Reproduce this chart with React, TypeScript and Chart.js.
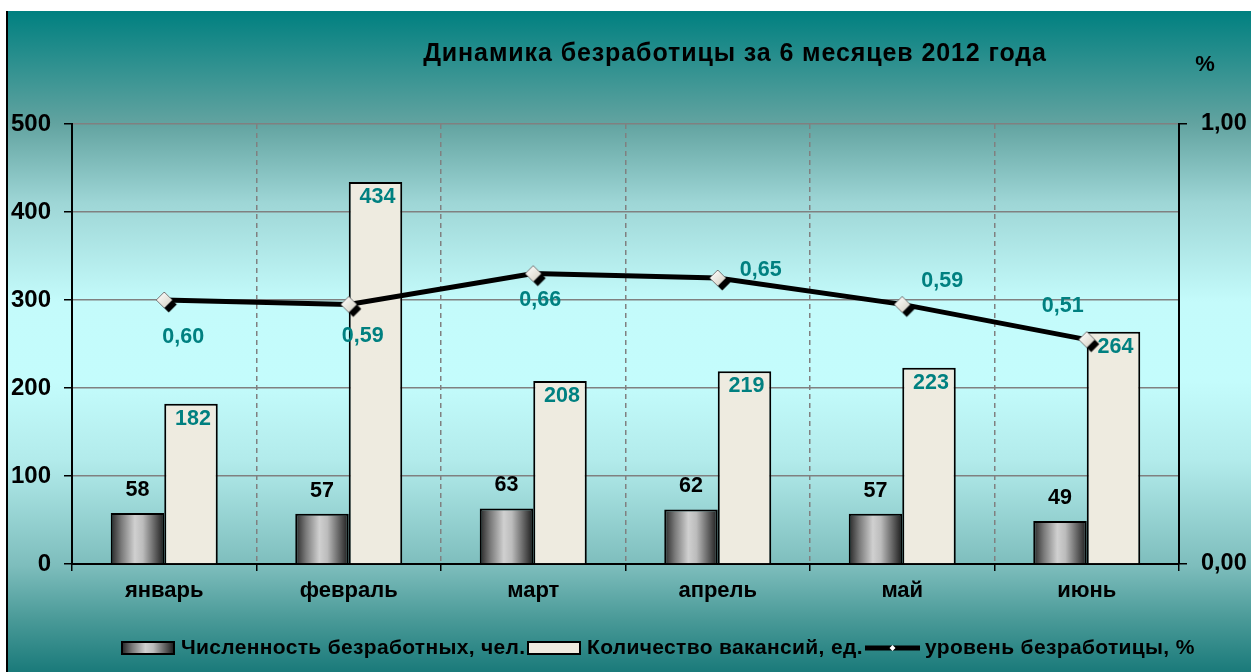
import React, { useEffect, useRef } from 'react';
import { Chart, registerables } from 'chart.js';

Chart.register(...registerables);

const months = ['январь', 'февраль', 'март', 'апрель', 'май', 'июнь'];
const unemployed = [58, 57, 63, 62, 57, 49];
const vacancies = [182, 434, 208, 219, 223, 264];
const rate = [0.6, 0.59, 0.66, 0.65, 0.59, 0.51];
const leftAxis = { min: 0, max: 500, step: 100 };
const rightAxis = { min: 0, max: 1, step: 1 };
const seriesNames = ['Численность безработных, чел.', 'Количество вакансий, ед.', 'уровень безработицы, %'];
const chartTitle = 'Динамика безработицы за 6 месяцев 2012 года';
const unitLabel = '%';

// label offsets (px) of the rate labels relative to their points
const rateLabelOffsets = [[19, 37], [14, 32], [7, 26], [43, -8], [40, -23], [-24, -34]];

const FONT = '"Liberation Sans", Arial, Helvetica, sans-serif';
const TEAL = '#008080';
const CREAM = '#EEEBE0';
const W = 1243;
const H = 661;

const fmt = (v: number) => v.toFixed(2).replace('.', ',');

function darkGradient(ctx: CanvasRenderingContext2D, x0: number, x1: number) {
  const g = ctx.createLinearGradient(x0, 0, x1, 0);
  g.addColorStop(0, '#262626');
  g.addColorStop(0.2, '#7a7a7a');
  g.addColorStop(0.45, '#d0d0d0');
  g.addColorStop(0.6, '#bcbcbc');
  g.addColorStop(0.85, '#575757');
  g.addColorStop(1, '#1a1a1a');
  return g;
}

function makeMarker() {
  const c = document.createElement('canvas');
  c.width = 36;
  c.height = 36;
  const x = c.getContext('2d')!;
  const r = 8;
  const diamond = (cx: number, cy: number) => {
    x.beginPath();
    x.moveTo(cx, cy - r);
    x.lineTo(cx + r, cy);
    x.lineTo(cx, cy + r);
    x.lineTo(cx - r, cy);
    x.closePath();
  };
  x.fillStyle = '#000';
  diamond(22.5, 22.5);
  x.fill();
  const g = x.createLinearGradient(11, 11, 25, 25);
  g.addColorStop(0, '#ffffff');
  g.addColorStop(1, '#d6d2c4');
  x.fillStyle = g;
  diamond(18, 18);
  x.fill();
  x.strokeStyle = '#777';
  x.lineWidth = 1;
  x.stroke();
  return c;
}

function text(ctx: any, s: string, x: number, y: number, spacing: number) {
  ctx.letterSpacing = `${spacing}px`;
  ctx.fillText(s, x, y);
  ctx.letterSpacing = '0px';
}

const decorPlugin = {
  id: 'decor',
  beforeDraw(chart: any) {
    const { ctx, width, height } = chart;
    const g = ctx.createLinearGradient(0, 0, 0, height);
    g.addColorStop(0, '#008080');
    g.addColorStop(0.17, '#62a3a0');
    g.addColorStop(0.29, '#9ed6d6');
    g.addColorStop(0.44, '#c4fbfb');
    g.addColorStop(0.56, '#c4fcfc');
    g.addColorStop(0.68, '#b2ebeb');
    g.addColorStop(0.84, '#7dbdbc');
    g.addColorStop(0.92, '#4a9a98');
    g.addColorStop(1, '#1a7a7a');
    ctx.save();
    ctx.fillStyle = g;
    ctx.fillRect(0, 0, width, height);
    ctx.restore();
  },
  beforeDatasetsDraw(chart: any) {
    const meta = chart.getDatasetMeta(1);
    meta.data.forEach((el: any) => {
      const { x, width } = el.getProps(['x', 'width'], true);
      el.options.backgroundColor = darkGradient(chart.ctx, x - width / 2, x + width / 2);
    });
  },
  afterDraw(chart: any) {
    const { ctx } = chart;
    ctx.save();
    ctx.textBaseline = 'middle';
    ctx.textAlign = 'center';
    // title
    ctx.fillStyle = '#000';
    ctx.font = `bold 25px ${FONT}`;
    text(ctx, chartTitle, 727, 43, 0.9);
    ctx.font = `bold 22px ${FONT}`;
    ctx.fillText(unitLabel, 1197, 54);

    // value labels
    ctx.font = `bold 21.5px ${FONT}`;
    const mDark = chart.getDatasetMeta(1);
    mDark.data.forEach((el: any, i: number) => {
      ctx.fillStyle = '#000';
      ctx.fillText(String(unemployed[i]), el.x, el.y - 23);
    });
    const mCream = chart.getDatasetMeta(2);
    mCream.data.forEach((el: any, i: number) => {
      ctx.fillStyle = TEAL;
      ctx.fillText(String(vacancies[i]), el.x + 2, el.y + 15);
    });
    const mLine = chart.getDatasetMeta(0);
    mLine.data.forEach((el: any, i: number) => {
      ctx.fillStyle = TEAL;
      const [dx, dy] = rateLabelOffsets[i];
      ctx.fillText(fmt(rate[i]), el.x + dx, el.y + dy);
    });

    // legend
    const ly = 637;
    ctx.textAlign = 'left';
    ctx.font = `bold 21px ${FONT}`;
    ctx.lineWidth = 2;
    ctx.strokeStyle = '#000';
    // item 1
    ctx.fillStyle = darkGradient(ctx, 114, 166);
    ctx.fillRect(114, ly - 6, 52, 12);
    ctx.strokeRect(114, ly - 6, 52, 12);
    ctx.fillStyle = '#000';
    text(ctx, seriesNames[0], 173, ly, 0.33);
    // item 2
    ctx.fillStyle = CREAM;
    ctx.fillRect(520, ly - 6, 52, 12);
    ctx.strokeRect(520, ly - 6, 52, 12);
    ctx.fillStyle = '#000';
    text(ctx, seriesNames[1], 579, ly, 0.35);
    // item 3
    ctx.lineWidth = 5;
    ctx.beginPath();
    ctx.moveTo(857, ly);
    ctx.lineTo(912, ly);
    ctx.stroke();
    ctx.fillStyle = '#fff';
    ctx.beginPath();
    ctx.moveTo(884.5, ly - 3);
    ctx.lineTo(887.5, ly);
    ctx.lineTo(884.5, ly + 3);
    ctx.lineTo(881.5, ly);
    ctx.closePath();
    ctx.fill();
    ctx.fillStyle = '#000';
    text(ctx, seriesNames[2], 917, ly, 0.35);
    ctx.restore();
  },
};

export default function App() {
  const ref = useRef<HTMLCanvasElement>(null);
  useEffect(() => {
    if (!ref.current) return;
    const marker = makeMarker();
    const chart = new Chart(ref.current, {
      type: 'bar',
      data: {
        labels: months,
        datasets: [
          {
            type: 'line',
            label: seriesNames[2],
            data: rate,
            yAxisID: 'y1',
            borderColor: '#000',
            borderWidth: 5,
            pointStyle: marker as any,
            pointRadius: 8,
            tension: 0,
            fill: false,
            order: 0,
          } as any,
          {
            label: seriesNames[0],
            data: unemployed,
            yAxisID: 'y',
            backgroundColor: () => '#888888',
            borderColor: '#000',
            borderWidth: 2,
            borderSkipped: 'bottom',
            order: 1,
          },
          {
            label: seriesNames[1],
            data: vacancies,
            yAxisID: 'y',
            backgroundColor: CREAM,
            borderColor: '#000',
            borderWidth: 2,
            borderSkipped: 'bottom',
            order: 2,
          },
        ],
      },
      options: {
        responsive: false,
        animation: false,
        devicePixelRatio: 1,
        datasets: { bar: { categoryPercentage: 0.58, barPercentage: 1 } },
        layout: { padding: { top: 113, bottom: 68, left: 0, right: 0 } },
        plugins: { legend: { display: false }, tooltip: { enabled: false }, title: { display: false } },
        scales: {
          x: {
            type: 'category',
            offset: true,
            grid: { offset: true, color: '#808080', lineWidth: 1.5, tickColor: '#000', tickLength: 7 },
            border: { display: true, color: '#000', width: 2, dash: [5, 4] },
            ticks: { color: '#000', font: { family: FONT, size: 22, weight: 'bold' }, padding: 7, maxRotation: 0 },
            afterFit: (s: any) => { s.height = 40; },
          },
          y: {
            position: 'left',
            min: leftAxis.min,
            max: leftAxis.max,
            grid: { color: '#808080', lineWidth: 1.5, tickColor: '#000', tickLength: 8 },
            border: { display: true, color: '#000', width: 2 },
            ticks: { stepSize: leftAxis.step, color: '#000', font: { family: FONT, size: 24, weight: 'bold' }, padding: 13 },
            afterFit: (s: any) => { s.width = 64; },
          },
          y1: {
            position: 'right',
            min: rightAxis.min,
            max: rightAxis.max,
            grid: { drawOnChartArea: false, tickColor: '#000', tickLength: 8, lineWidth: 1.5 },
            border: { display: true, color: '#000', width: 2 },
            ticks: { stepSize: rightAxis.step, color: '#000', font: { family: FONT, size: 23.5, weight: 'bold' }, padding: 14, callback: (v: any) => fmt(Number(v)) },
            afterFit: (s: any) => { s.width = 72; },
          },
        },
      } as any,
      plugins: [decorPlugin],
    });
    return () => chart.destroy();
  }, []);
  return (
    <div style={{ position: 'fixed', left: 6, top: 11, width: W + 2, height: H, borderLeft: '2px solid #000', boxSizing: 'border-box', overflow: 'hidden' }}>
      <canvas ref={ref} width={W} height={H} style={{ display: 'block', width: W, height: H }} />
    </div>
  );
}
